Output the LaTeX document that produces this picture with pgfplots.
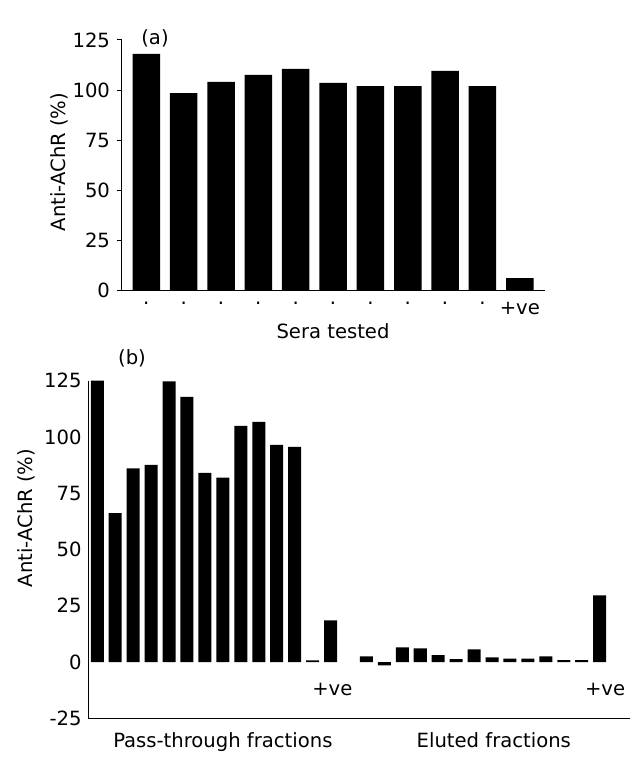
\documentclass[border=0pt]{standalone}
\usepackage{fontspec}
\setmainfont{DejaVu Sans}
\usepackage{pgfplots}
\pgfplotsset{compat=1.18}
\begin{document}
\fontsize{19.6}{23}\selectfont
\begin{tikzpicture}
\useasboundingbox (0pt,0pt) rectangle (632pt,-765pt);
% ---------- panel (a)
\begin{axis}[
  at={(121.7pt,-290pt)}, anchor=south west,
  scale only axis, width=423.3pt, height=250pt,
  xmin=-0.659, xmax=10.675, ymin=0, ymax=125,
  axis x line=bottom, axis y line=left,
  axis line style={-, line width=1pt},
  ytick={0,25,50,75,100,125},
  xtick={0,...,10},
  xticklabels={.,.,.,.,.,.,.,.,.,.,+ve},
  x tick style={draw=none},
  y tick style={line width=1pt, black},
  tick align=outside, major tick length=5pt,
  /pgf/number format/assume math mode=true,
  tick label style={font=\fontsize{19.6}{23}\selectfont},
  clip=false,
]
\addplot[ybar, fill=black, draw=none, bar width=27.5pt] coordinates {
(0,118) (1,98.5) (2,104) (3,107.5) (4,110.5) (5,103.5) (6,102) (7,102) (8,109.5) (9,102) (10,6)
};
\end{axis}
% ---------- panel (b)
\begin{axis}[
  at={(88.3pt,-718.3pt)}, anchor=south west,
  scale only axis, width=541.7pt, height=337.6pt,
  xmin=-0.5, xmax=29.69, ymin=-25, ymax=125,
  axis x line=bottom, axis y line=left,
  axis line style={-, line width=1pt},
  ytick={-25,0,25,50,75,100,125},
  xtick={7.0,22.1},
  xticklabels={Pass-through fractions,Eluted fractions},
  major tick length=0pt,
  /pgf/number format/assume math mode=true,
  tick label style={font=\fontsize{19.6}{23}\selectfont},
  xticklabel style={yshift=-8pt},
  clip=false,
]
\addplot[ybar, fill=black, draw=none, bar width=13pt] coordinates {
(0,125) (1,66.2) (2,86) (3,87.6) (4,124.7) (5,117.8) (6,84.1) (7,81.9) (8,104.9) (9,106.7) (10,96.5) (11,95.6) (12,0.7) (13,18.5)
(15,2.5) (16,-1.5) (17,6.5) (18,6.1) (19,3.1) (20,1.3) (21,5.6) (22,2.1) (23,1.5) (24,1.5) (25,2.5) (26,0.9) (27,0.9) (28,29.6)
};
\node at (axis cs:13.1,-12.1) {+ve};
\node at (axis cs:28.3,-12.1) {+ve};
\end{axis}
% ---------- labels
\node[rotate=90] at (59pt,-162pt) {Anti-AChR (\%)};
\node[rotate=90] at (26pt,-518pt) {Anti-AChR (\%)};
\node at (333pt,-331pt) {Sera tested};
\node at (155pt,-38pt) {(a)};
\node at (132pt,-358pt) {(b)};
\end{tikzpicture}
\end{document}
